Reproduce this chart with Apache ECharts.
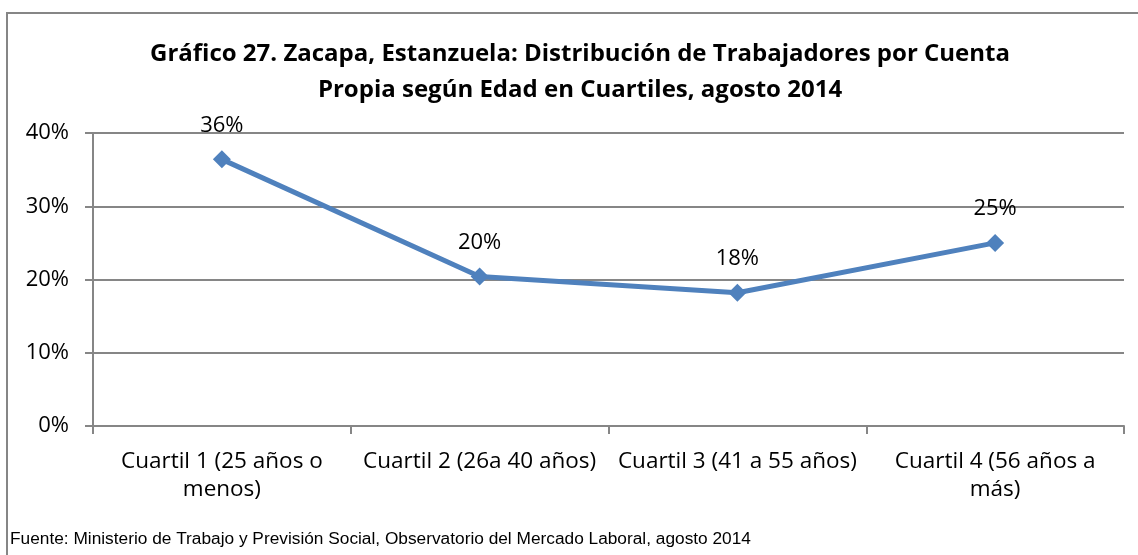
<!DOCTYPE html>
<html>
<head>
<meta charset="utf-8">
<script src="https://cdn.jsdelivr.net/npm/echarts@6/dist/echarts.min.js"></script>
<style>
html, body { margin: 0; padding: 0; background: #fff; }
#chart { width: 1138px; height: 555px; }
</style>
</head>
<body>
<div id="chart"></div>
<script>
var categories = ['Cuartil 1 (25 años o\nmenos)', 'Cuartil 2 (26a 40 años)', 'Cuartil 3 (41 a 55 años)', 'Cuartil 4 (56 años a\nmás)'];
var shares = [36.4, 20.4, 18.2, 25.0];
var titleLines = 'Gráfico 27. Zacapa, Estanzuela: Distribución de Trabajadores por Cuenta\nPropia según Edad en Cuartiles, agosto 2014';
var sourceNote = 'Fuente: Ministerio de Trabajo y Previsión Social, Observatorio del Mercado Laboral, agosto 2014';

var myChart = echarts.init(document.getElementById('chart'));

var font = '"Open Sans", Lato, sans-serif';
var gray = '#868686';

var option = {
	animation: false,
	graphic: [{
		type: 'rect',
		shape: { x: 7, y: 13, width: 1145, height: 560 },
		style: { fill: 'none', stroke: gray, lineWidth: 2 }
	}, {
		type: 'text',
		x: 580,
		y: 36,
		style: {
			text: titleLines,
			textAlign: 'center',
			fontFamily: font,
			fontSize: 24,
			fontWeight: 'bold',
			lineHeight: 36,
			fill: '#000'
		}
	}, {
		type: 'text',
		left: 10,
		top: 531,
		style: {
			text: sourceNote,
			fontFamily: '"Liberation Sans Narrow", "Liberation Sans", Arial, sans-serif',
			fontSize: 17.3,
			fill: '#000'
		}
	}],
	grid: {
		left: 93,
		right: 14,
		top: 133,
		bottom: 129
	},
	xAxis: {
		type: 'category',
		data: categories,
		boundaryGap: true,
		axisLine: { lineStyle: { color: gray, width: 2 } },
		axisTick: { show: true, interval: 0, length: 8, lineStyle: { color: gray, width: 2 } },
		axisLabel: {
			interval: 0,
			hideOverlap: false,
			fontFamily: font,
			fontSize: 22.5,
			color: '#000',
			lineHeight: 28,
			margin: 22
		}
	},
	yAxis: {
		type: 'value',
		min: 0,
		max: 40,
		interval: 10,
		axisLine: { show: true, lineStyle: { color: gray, width: 2 } },
		axisTick: { show: true, length: 8, lineStyle: { color: gray, width: 2 } },
		splitLine: { lineStyle: { color: gray, width: 2 } },
		axisLabel: {
			fontFamily: font,
			fontSize: 22,
			color: '#000',
			margin: 24,
			formatter: '{value}%'
		}
	},
	series: [{
		type: 'line',
		data: shares,
		symbol: 'diamond',
		symbolSize: 18,
		lineStyle: { color: '#4F81BD', width: 5 },
		itemStyle: { color: '#4F81BD' },
		label: {
			show: true,
			position: 'top',
			distance: 14,
			fontFamily: font,
			fontSize: 22,
			color: '#000',
			formatter: function (p) { return Math.round(p.value) + '%'; }
		}
	}]
};

myChart.setOption(option);
</script>
</body>
</html>
